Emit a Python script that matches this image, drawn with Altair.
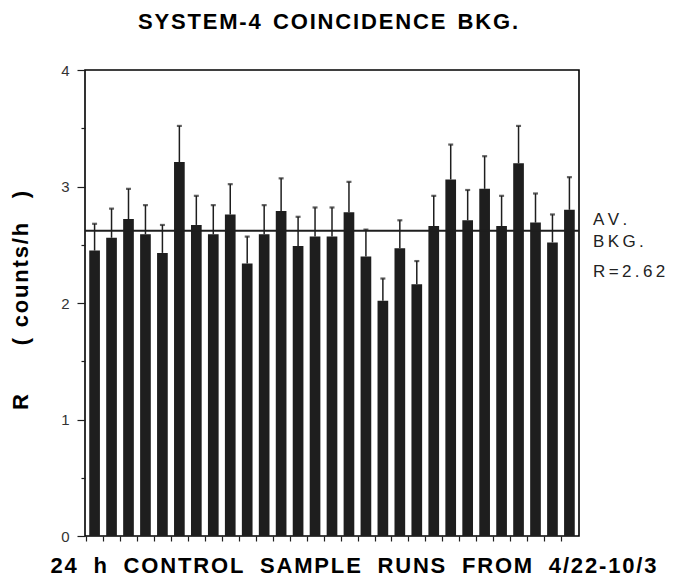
import altair as alt
import pandas as pd

runs = list(range(1, 30))
rates = [2.45, 2.56, 2.72, 2.59, 2.43, 3.21, 2.67, 2.59, 2.76, 2.34,
         2.59, 2.79, 2.49, 2.57, 2.57, 2.78, 2.40, 2.02, 2.47, 2.16,
         2.66, 3.06, 2.71, 2.98, 2.66, 3.20, 2.69, 2.52, 2.80]
err_up = [0.23, 0.25, 0.26, 0.25, 0.24, 0.31, 0.25, 0.25, 0.26, 0.23,
          0.25, 0.28, 0.25, 0.25, 0.25, 0.26, 0.23, 0.19, 0.24, 0.20,
          0.26, 0.30, 0.26, 0.28, 0.26, 0.32, 0.25, 0.24, 0.28]
avg_bkg = 2.62

title_words = ["SYSTEM-4", "COINCIDENCE", "BKG."]
x_title_words = ["24", "h", "CONTROL", "SAMPLE", "RUNS", "FROM", "4/22-10/3"]
side_lines = ["AV.", "BKG.", "R=2.62"]

NB = "\u00a0"
HAIR = "\u200a"
THIN = "\u2009"


def spaced(words, gap, sep=HAIR):
    return gap.join(sep.join(w) for w in words)


title_text = spaced(title_words, NB * 2)
x_title = spaced(x_title_words, NB * 2 + THIN)
y_title = "R" + NB * 8 + "(" + NB + THIN + HAIR.join("counts/h") + NB * 4 + ")"

FONT = "Liberation Sans"
INK = "#1e1e1e"

df = pd.DataFrame({
    "run": runs,
    "rate": rates,
    "top": [r + e for r, e in zip(rates, err_up)],
})

W, H = 494, 466

xenc = alt.X("run:O", sort=runs,
             scale=alt.Scale(paddingInner=0.37, paddingOuter=0.25),
             axis=alt.Axis(labels=False, title=x_title, tickSize=5, tickColor=INK,
                           tickWidth=1.2, bandPosition=0, tickOffset=-3,
                           domain=False, titleFont=FONT, titleFontSize=22,
                           titleFontWeight="bold", titleColor="#000",
                           titleX=268, titleY=36, titleBaseline="alphabetic",
                           titleAlign="center"))
yscale = alt.Scale(domain=[0, 4], nice=False)
yaxis = alt.Axis(values=[0, 0.5, 1, 1.5, 2, 2.5, 3, 3.5, 4],
                 labelExpr="datum.value % 1 === 0 ? format(datum.value, 'd') : ''",
                 tickSize={"condition": {"test": "datum.value % 1 === 0", "value": 8}, "value": 4},
                 tickColor=INK, tickWidth=1.2, domain=False, grid=False,
                 labelFont=FONT, labelFontSize=15, labelColor="#333", labelPadding=8,
                 title=y_title, titleFont=FONT, titleFontSize=22, titleFontWeight="bold",
                 titleColor="#000", titleAngle=270, titleX=-58, titleY=230,
                 titleAlign="center", titleBaseline="alphabetic")

base = alt.Chart(df)

bars = base.mark_bar(color=INK).encode(
    x=xenc,
    y=alt.Y("rate:Q", scale=yscale, axis=yaxis),
)
err = base.mark_rule(color=INK, strokeWidth=1.5).encode(
    x=alt.X("run:O", sort=runs), y="rate:Q", y2="top:Q")
caps = base.mark_tick(color=INK, orient="horizontal", size=5, thickness=2.2).encode(
    x=alt.X("run:O", sort=runs), y="top:Q")

avg = alt.Chart(pd.DataFrame({"avg": [avg_bkg]})).mark_rule(
    color=INK, strokeWidth=2).encode(y="avg:Q")

side = alt.Chart(pd.DataFrame({"t": [THIN.join(s) for s in side_lines],
                               "yy": [155, 177, 207]})).mark_text(
    font=FONT, fontSize=17, color="#222", align="left", baseline="alphabetic"
).encode(text="t:N", x=alt.value(508), y=alt.Y("yy:Q", scale=None))

title = alt.Chart(pd.DataFrame({"t": [title_text]})).mark_text(
    font=FONT, fontSize=22, fontWeight="bold", color="#000", align="center",
    baseline="alphabetic").encode(
    text="t:N", x=alt.value(243), y=alt.value(-41))

chart = alt.layer(bars, err, caps, avg, side, title).properties(
    width=W, height=H,
    autosize=alt.AutoSizeParams(type="none"),
    padding={"left": 77, "top": 62, "right": 90, "bottom": 40},
).configure_view(stroke="#000", strokeWidth=1.6)

chart.save("out.html", embed_options={"renderer": "svg", "actions": False})
